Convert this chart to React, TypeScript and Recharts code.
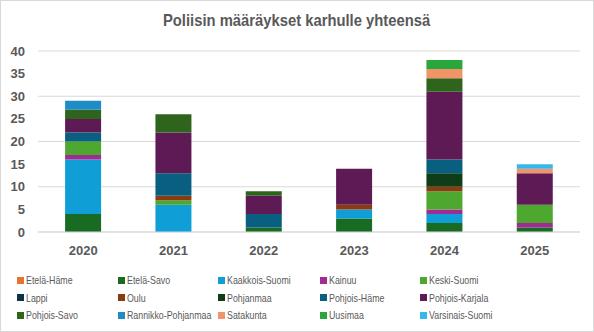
import React from "react";
import { BarChart, Bar, XAxis, YAxis, CartesianGrid } from "recharts";

const YEARS = ["2020", "2021", "2022", "2023", "2024", "2025"];

const REGIONS = [
  "Etelä-Häme", "Etelä-Savo", "Kaakkois-Suomi", "Kainuu", "Keski-Suomi",
  "Lappi", "Oulu", "Pohjanmaa", "Pohjois-Häme", "Pohjois-Karjala",
  "Pohjois-Savo", "Rannikko-Pohjanmaa", "Satakunta", "Uusimaa", "Varsinais-Suomi",
];

const COLORS = [
  "#E97132", "#196B24", "#0F9ED5", "#A02B93", "#4EA72E",
  "#0E3349", "#8B3A11", "#0F3D17", "#095F80", "#5E1A55",
  "#2E641C", "#1F8CC6", "#F1946A", "#28A83A", "#35B8EC",
];

// values per year, in the order of REGIONS
const etelaHame = [0, 0, 0, 0, 0, 0];
const etelaSavo = [4, 0, 1, 3, 2, 1];
const kaakkoisSuomi = [12, 6, 0, 2, 2, 0];
const kainuu = [1, 0, 0, 0, 1, 1];
const keskiSuomi = [3, 1, 0, 0, 4, 4];
const lappi = [0, 0, 0, 0, 0, 0];
const oulu = [0, 1, 0, 1, 1, 0];
const pohjanmaa = [0, 0, 0, 0, 3, 0];
const pohjoisHame = [2, 5, 3, 0, 3, 0];
const pohjoisKarjala = [3, 9, 4, 8, 15, 7];
const pohjoisSavo = [2, 4, 1, 0, 3, 0];
const rannikkoPohjanmaa = [2, 0, 0, 0, 0, 0];
const satakunta = [0, 0, 0, 0, 2, 1];
const uusimaa = [0, 0, 0, 0, 2, 0];
const varsinaisSuomi = [0, 0, 0, 0, 0, 1];

const SERIES = [
  etelaHame, etelaSavo, kaakkoisSuomi, kainuu, keskiSuomi,
  lappi, oulu, pohjanmaa, pohjoisHame, pohjoisKarjala,
  pohjoisSavo, rannikkoPohjanmaa, satakunta, uusimaa, varsinaisSuomi,
];

const Y_TICKS = [0, 5, 10, 15, 20, 25, 30, 35, 40];

const data = YEARS.map((year, i) => {
  const row: Record<string, string | number> = { year };
  REGIONS.forEach((r, j) => { row[r] = SERIES[j][i]; });
  return row;
});

const TEXT = "#595959";
const LEGEND_X = [17, 118, 218, 320, 420];

export default function App() {
  return (
    <div
      style={{
        position: "fixed", top: 0, left: 0, width: 594, height: 332,
        background: "#fff", boxShadow: "inset 0 0 0 1px #d9d9d9",
        fontFamily: "'Liberation Sans', Arial, sans-serif",
      }}
    >
      <div
        style={{
          position: "absolute", top: 11, left: 0, width: 594, textAlign: "center",
          fontWeight: "bold", fontSize: 17, color: TEXT,
        }}
      >
        <span style={{ display: "inline-block", transform: "scaleX(0.87)" }}>
          Poliisin määräykset karhulle yhteensä
        </span>
      </div>

      <BarChart
        width={594}
        height={332}
        data={data}
        margin={{ top: 51, right: 14, bottom: 70, left: 0 }}
        barCategoryGap="30%"
      >
        <CartesianGrid vertical={false} stroke="#d9d9d9" />
        <XAxis
          dataKey="year" height={30} tickSize={0} tickMargin={14}
          axisLine={{ stroke: "#d9d9d9" }}
          tick={{ fill: TEXT, fontSize: 13, fontWeight: "bold" }}
        />
        <YAxis
          width={38} domain={[0, 40]} ticks={Y_TICKS} tickSize={0} tickMargin={13}
          axisLine={false}
          tick={{ fill: TEXT, fontSize: 13, fontWeight: "bold" }}
        />
        {REGIONS.map((r, j) => (
          <Bar key={r} dataKey={r} stackId="a" fill={COLORS[j]} isAnimationActive={false} />
        ))}
      </BarChart>

      {/* Legend */}
      {REGIONS.map((r, j) => (
        <div
          key={r}
          style={{
            position: "absolute", left: LEGEND_X[j % 5], top: 274 + Math.floor(j / 5) * 17.5,
            height: 12, display: "flex", alignItems: "center", whiteSpace: "nowrap",
            fontSize: 10.5, color: TEXT,
          }}
        >
          <span style={{ width: 7, height: 7, background: COLORS[j], marginRight: 2, flexShrink: 0 }} />
          <span style={{ display: "inline-block", transform: "scaleX(0.84)", transformOrigin: "left center" }}>{r}</span>
        </div>
      ))}
    </div>
  );
}
